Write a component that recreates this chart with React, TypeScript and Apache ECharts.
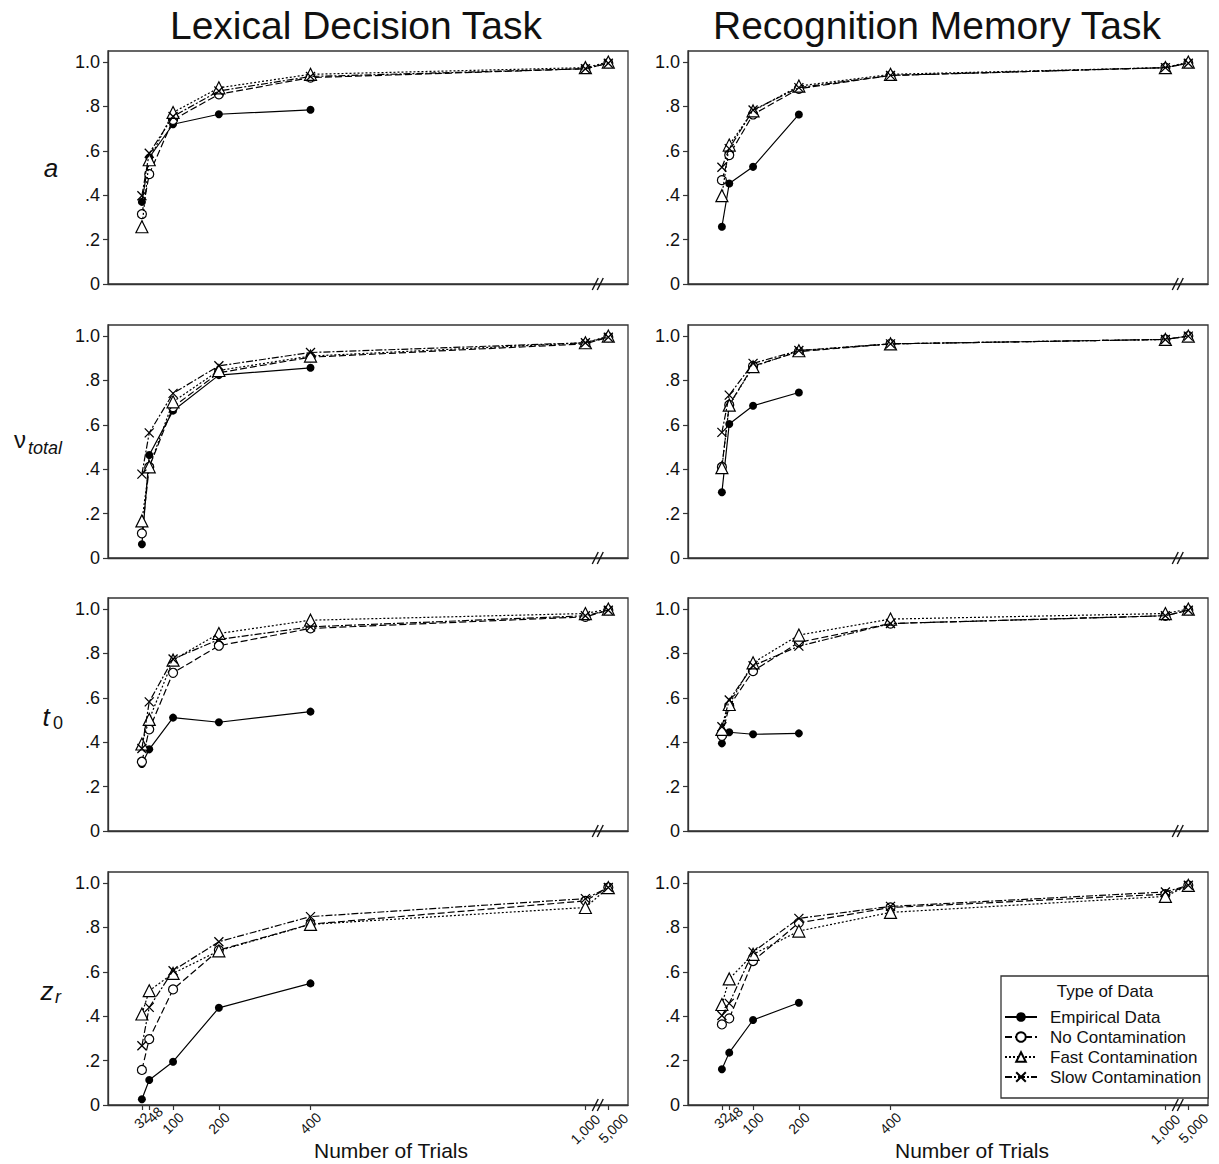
import React, { useEffect, useRef } from 'react';
import * as echarts from 'echarts';

const FONT = '"Liberation Sans", Arial, Helvetica, sans-serif';

const trials = [32, 48, 100, 200, 400, 1000, 5000];
const trialLabels = ['32', '48', '100', '200', '400', '1,000', '5,000'];
const seriesNames = ['Empirical Data', 'No Contamination', 'Fast Contamination', 'Slow Contamination'];
const taskTitles = ['Lexical Decision Task', 'Recognition Memory Task'];
const yTicks = [0, 0.2, 0.4, 0.6, 0.8, 1.0];

// Lexical Decision Task
const lexA_emp = [0.37, 0.57, 0.72, 0.765, 0.785, null, null];
const lexA_no = [0.315, 0.495, 0.74, 0.855, 0.93, 0.97, 0.995];
const lexA_fast = [0.258, 0.56, 0.773, 0.884, 0.945, 0.975, 1.0];
const lexA_slow = [0.398, 0.589, 0.755, 0.87, 0.935, 0.97, 0.995];

const lexV_emp = [0.062, 0.464, 0.664, 0.824, 0.857, null, null];
const lexV_no = [0.111, 0.41, 0.68, 0.835, 0.905, 0.965, 0.995];
const lexV_fast = [0.167, 0.411, 0.704, 0.845, 0.91, 0.97, 1.0];
const lexV_slow = [0.378, 0.564, 0.742, 0.866, 0.926, 0.97, 0.995];

const lexT_emp = [0.302, 0.368, 0.511, 0.49, 0.538, null, null];
const lexT_no = [0.312, 0.458, 0.713, 0.835, 0.913, 0.965, 0.995];
const lexT_fast = [0.392, 0.503, 0.77, 0.89, 0.95, 0.98, 1.0];
const lexT_slow = [0.372, 0.582, 0.775, 0.863, 0.92, 0.97, 0.995];

const lexZ_emp = [0.026, 0.113, 0.195, 0.438, 0.548, null, null];
const lexZ_no = [0.158, 0.297, 0.521, 0.698, 0.815, 0.92, 0.98];
const lexZ_fast = [0.41, 0.515, 0.593, 0.695, 0.814, 0.89, 0.98];
const lexZ_slow = [0.267, 0.44, 0.605, 0.736, 0.849, 0.93, 0.98];

// Recognition Memory Task
const recA_emp = [0.258, 0.453, 0.528, 0.764, null, null, null];
const recA_no = [0.468, 0.581, 0.764, 0.88, 0.94, 0.975, 0.995];
const recA_fast = [0.398, 0.626, 0.78, 0.892, 0.945, 0.975, 1.0];
const recA_slow = [0.526, 0.61, 0.784, 0.885, 0.94, 0.975, 0.995];

const recV_emp = [0.296, 0.604, 0.686, 0.746, null, null, null];
const recV_no = [0.41, 0.69, 0.865, 0.93, 0.965, 0.985, 1.0];
const recV_fast = [0.407, 0.689, 0.862, 0.934, 0.965, 0.985, 1.0];
const recV_slow = [0.566, 0.734, 0.877, 0.935, 0.965, 0.985, 1.0];

const recT_emp = [0.395, 0.445, 0.436, 0.44, null, null, null];
const recT_no = [0.429, 0.563, 0.721, 0.85, 0.935, 0.97, 0.995];
const recT_fast = [0.458, 0.57, 0.758, 0.883, 0.955, 0.98, 1.0];
const recT_slow = [0.47, 0.59, 0.745, 0.833, 0.935, 0.97, 0.995];

const recZ_emp = [0.161, 0.236, 0.383, 0.461, null, null, null];
const recZ_no = [0.363, 0.39, 0.649, 0.821, 0.89, 0.95, 0.99];
const recZ_fast = [0.453, 0.568, 0.679, 0.784, 0.868, 0.94, 0.99];
const recZ_slow = [0.403, 0.458, 0.69, 0.841, 0.895, 0.96, 0.99];

// panels[row][col] -> [emp, no, fast, slow]
const panels = [
  [[lexA_emp, lexA_no, lexA_fast, lexA_slow], [recA_emp, recA_no, recA_fast, recA_slow]],
  [[lexV_emp, lexV_no, lexV_fast, lexV_slow], [recV_emp, recV_no, recV_fast, recV_slow]],
  [[lexT_emp, lexT_no, lexT_fast, lexT_slow], [recT_emp, recT_no, recT_fast, recT_slow]],
  [[lexZ_emp, lexZ_no, lexZ_fast, lexZ_slow], [recZ_emp, recZ_no, recZ_fast, recZ_slow]],
];

// broken x axis: linear up to 1,000, then 5,000 drawn just past the break
const BREAK_AT = 1000;
const AFTER_BREAK_POS = 1050;
const BREAK_MARK_POS = 1027;
const axisPos = (t: number) => (t > BREAK_AT ? AFTER_BREAK_POS : t);
const tickPositions = trials.map(axisPos);

const X_MIN = -42;
const X_MAX = 1093;

const gridLefts = [108, 688];
const gridTops = [51, 325, 598, 872];
const GRID_W = 520;
const GRID_H = 233;

const X_LABEL_SIZE = 14;
// extra shift along the label's baseline, and extra drop, for the crowded labels
const labelShift: Record<string, number> = { '48': 16, '5,000': 14 };
const labelDrop: Record<string, number> = { '48': 0, '5,000': 6, '1,000': 2 };

const seriesStyles = [
  { symbol: 'circle', symbolSize: 8, fill: '#000', dash: 'solid' as any, bw: 0 },
  { symbol: 'circle', symbolSize: 9, fill: '#fff', dash: [7, 3], bw: 1.2 },
  { symbol: 'triangle', symbolSize: 12, fill: '#fff', dash: [2, 2], bw: 1.2 },
  { symbol: 'path://M0,0L10,10M10,0L0,10', symbolSize: 9, fill: '#fff', dash: [7, 2, 2, 2], bw: 1.3 },
];

// rotated labels are centred under their tick, with their tops roughly aligned
const labelMargin = (label: string) => {
  const digits = label.replace(/[^0-9]/g, '').length;
  const commas = label.length - digits;
  const w = digits * 0.556 * X_LABEL_SIZE + commas * 0.278 * X_LABEL_SIZE;
  return 5 + 0.354 * (w + X_LABEL_SIZE) + (labelDrop[label] || 0);
};

export default function App() {
  const ref = useRef<HTMLDivElement>(null);

  useEffect(() => {
    if (!ref.current) return;
    const chart = echarts.init(ref.current, undefined, { renderer: 'svg' });

    const grids: any[] = [];
    const xAxes: any[] = [];
    const yAxes: any[] = [];
    const series: any[] = [];

    let idx = 0;
    for (let r = 0; r < 4; r++) {
      for (let c = 0; c < 2; c++) {
        const isBottom = r === 3;
        grids.push({
          left: gridLefts[c],
          top: gridTops[r],
          width: GRID_W,
          height: GRID_H,
          show: true,
          borderColor: '#333',
          borderWidth: 1.3,
          backgroundColor: 'transparent',
        });
        const mainX = xAxes.length;
        xAxes.push({
          gridIndex: idx,
          type: 'value',
          position: 'bottom',
          min: X_MIN,
          max: X_MAX,
          axisLine: { show: true, onZero: false, lineStyle: { color: '#333', width: 1.3 } },
          axisTick: {
            show: isBottom,
            customValues: tickPositions,
            length: 5,
            lineStyle: { color: '#333', width: 1.2 },
          },
          axisLabel: { show: false },
          splitLine: { show: false },
        });
        if (isBottom) {
          // one overlaid label-only axis per tick label so each can be placed individually
          tickPositions.forEach((pos, i) => {
            const lab = trialLabels[i];
            const shift = labelShift[lab] || 0;
            xAxes.push({
              gridIndex: idx,
              type: 'value',
              position: 'bottom',
              offset: 0,
              min: X_MIN,
              max: X_MAX,
              axisLine: { show: false, onZero: false },
              axisTick: { show: false },
              axisLabel: {
                show: true,
                customValues: [pos],
                interval: 0,
                hideOverlap: false,
                rotate: 45,
                align: 'center',
                verticalAlign: 'middle',
                margin: labelMargin(lab),
                padding: [0, 0, 0, shift],
                fontSize: X_LABEL_SIZE,
                fontFamily: FONT,
                color: '#111',
                formatter: () => lab,
              },
              splitLine: { show: false },
            });
          });
        }
        yAxes.push({
          gridIndex: idx,
          type: 'value',
          min: 0,
          max: 1.05,
          axisLine: { show: true, onZero: false, lineStyle: { color: '#333', width: 1.3 } },
          axisTick: { show: true, customValues: yTicks, length: 5, lineStyle: { color: '#333', width: 1.2 } },
          axisLabel: {
            customValues: yTicks,
            margin: 8,
            fontSize: 18,
            fontFamily: FONT,
            color: '#111',
            formatter: (v: number) => {
              if (v === 0) return '0';
              if (Math.abs(v - 1) < 1e-9) return '1.0';
              return v.toFixed(1).replace(/^0/, '');
            },
          },
          splitLine: { show: false },
        });

        const sets = panels[r][c];
        sets.forEach((vals: (number | null)[], s: number) => {
          const st = seriesStyles[s];
          const data: number[][] = [];
          vals.forEach((v, k) => {
            if (v !== null) data.push([axisPos(trials[k]), v]);
          });
          series.push({
            type: 'line',
            name: seriesNames[s],
            xAxisIndex: mainX,
            yAxisIndex: idx,
            data,
            symbol: st.symbol,
            symbolSize: st.symbolSize,
            showSymbol: true,
            color: '#000',
            lineStyle: { color: '#000', width: 1.2, type: st.dash },
            itemStyle: { color: st.fill, borderColor: '#000', borderWidth: st.bw },
            z: 3 + s,
            silent: true,
          });
        });

        series.push({
          type: 'custom',
          xAxisIndex: mainX,
          yAxisIndex: idx,
          silent: true,
          clip: false,
          z: 20,
          data: [[BREAK_MARK_POS, 0]],
          renderItem: (params: any, api: any) => {
            const p = api.coord([api.value(0), api.value(1)]);
            const mk = (dx: number) => ({
              type: 'line',
              shape: { x1: p[0] + dx - 3, y1: p[1] + 6, x2: p[0] + dx + 3, y2: p[1] - 6 },
              style: { stroke: '#111', lineWidth: 1.4 },
            });
            return { type: 'group', children: [mk(-2.5), mk(2.5)] };
          },
        });
        idx++;
      }
    }

    const rowCenters = gridTops.map((t) => t + GRID_H / 2);
    const graphic: any[] = [
      {
        type: 'text', x: 356, y: 25, z: 100,
        style: { text: taskTitles[0], font: `39px ${FONT}`, fill: '#111', align: 'center', verticalAlign: 'middle' },
      },
      {
        type: 'text', x: 937, y: 25, z: 100,
        style: { text: taskTitles[1], font: `39px ${FONT}`, fill: '#111', align: 'center', verticalAlign: 'middle' },
      },
      {
        type: 'text', x: 391, y: 1150, z: 100,
        style: { text: 'Number of Trials', font: `21px ${FONT}`, fill: '#111', align: 'center', verticalAlign: 'middle' },
      },
      {
        type: 'text', x: 972, y: 1150, z: 100,
        style: { text: 'Number of Trials', font: `21px ${FONT}`, fill: '#111', align: 'center', verticalAlign: 'middle' },
      },
      // row labels
      {
        type: 'text', x: 51, y: rowCenters[0], z: 100,
        style: { text: 'a', font: `italic 26px ${FONT}`, fill: '#111', align: 'center', verticalAlign: 'middle' },
      },
      {
        type: 'text', x: 20, y: rowCenters[1] - 2, z: 100,
        style: { text: 'ν', font: `24px ${FONT}`, fill: '#111', align: 'center', verticalAlign: 'middle' },
      },
      {
        type: 'text', x: 28, y: rowCenters[1] + 6, z: 100,
        style: { text: 'total', font: `italic 18px ${FONT}`, fill: '#111', align: 'left', verticalAlign: 'middle' },
      },
      {
        type: 'text', x: 46, y: rowCenters[2] + 2, z: 100,
        style: { text: 't', font: `italic 26px ${FONT}`, fill: '#111', align: 'center', verticalAlign: 'middle' },
      },
      {
        type: 'text', x: 53, y: rowCenters[2] + 8, z: 100,
        style: { text: '0', font: `18px ${FONT}`, fill: '#111', align: 'left', verticalAlign: 'middle' },
      },
      {
        type: 'text', x: 47, y: rowCenters[3] + 2, z: 100,
        style: { text: 'z', font: `italic 26px ${FONT}`, fill: '#111', align: 'center', verticalAlign: 'middle' },
      },
      {
        type: 'text', x: 55, y: rowCenters[3] + 8, z: 100,
        style: { text: 'r', font: `italic 18px ${FONT}`, fill: '#111', align: 'left', verticalAlign: 'middle' },
      },
      {
        type: 'text', x: 1105, y: 991, z: 100,
        style: { text: 'Type of Data', font: `17px ${FONT}`, fill: '#111', align: 'center', verticalAlign: 'middle' },
      },
    ];

    chart.setOption({
      animation: false,
      backgroundColor: '#fff',
      grid: grids,
      xAxis: xAxes,
      yAxis: yAxes,
      series,
      legend: {
        show: true,
        data: seriesNames,
        orient: 'vertical',
        left: 1001,
        top: 976,
        itemWidth: 32,
        itemHeight: 12,
        itemGap: 2,
        padding: [32, 7, 12, 3],
        borderColor: '#333',
        borderWidth: 1.3,
        backgroundColor: '#fff',
        selectedMode: false,
        z: 50,
        textStyle: { fontSize: 17, lineHeight: 18, fontFamily: FONT, color: '#111', padding: [0, 0, 0, 8] },
      },
      graphic,
    });

    return () => chart.dispose();
  }, []);

  return (
    <div
      ref={ref}
      style={{ position: 'absolute', left: 0, top: 0, width: 1219, height: 1164 }}
    />
  );
}
